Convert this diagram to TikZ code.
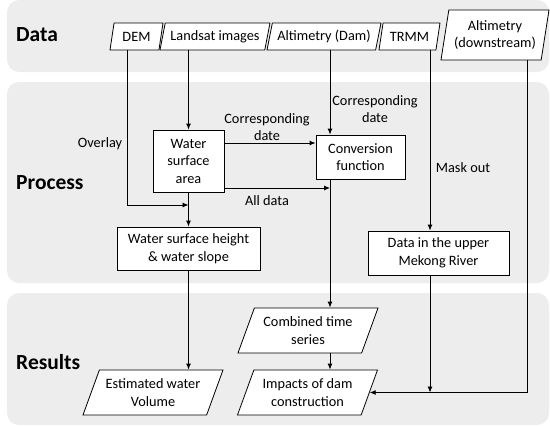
\documentclass[tikz,border=0pt]{standalone}
\usepackage{fontspec}
\setmainfont{Carlito}
\usepackage{xcolor}
\usepackage{tikz}
\usetikzlibrary{positioning,arrows.meta,shapes.geometric}
\definecolor{bandgray}{HTML}{EDEDED}

\begin{document}
\begin{tikzpicture}[
  x=1pt, y=-1pt,
  font=\fontsize{14.3}{17.5}\selectfont,
  line/.style={-{Latex[length=6pt,width=5pt]}, line width=0.9pt, draw=black},
  band/.style={fill=bandgray, draw=none, rounded corners=12pt},
  title/.style={font=\fontsize{21.5}{24}\selectfont\bfseries, anchor=west, inner sep=0pt},
  lbl/.style={align=center, inner sep=0pt},
  box/.style={draw=black, fill=white, line width=0.8pt, align=center, inner sep=1pt},
  data/.style={box, trapezium, trapezium left angle=70, trapezium right angle=110, trapezium stretches body=true, minimum height=27pt},
  result/.style={data, trapezium left angle=61, trapezium right angle=119, minimum height=45pt, minimum width=140pt}
]
\useasboundingbox (0,0) rectangle (550,426);

% Background bands
\fill[band] (7,0) rectangle (549,72);
\fill[band] (7,82) rectangle (549,283);
\fill[band] (7,293) rectangle (549,425);

\node[title] (tdata) at (16,35) {Data};
\node[title] (tproc) at (16,183) {Process};
\node[title] (tres) at (16,362) {Results};

% Data row
\node[data, minimum width=53pt] (dem) at (136.5,36.5) {DEM};
\node[data, minimum width=110pt] (landsat) at (215,36.5) {Landsat images};
\node[data, minimum width=114pt] (altdam) at (324,36.5) {Altimetry (Dam)};
\node[data, minimum width=61pt] (trmm) at (409.5,36.5) {TRMM};
\node[data, trapezium left angle=76, trapezium right angle=104, minimum width=108pt, minimum height=50pt] (altdown) at (495,35) {Altimetry\\(downstream)};

% Process boxes
\node[box, minimum width=71pt, minimum height=62pt] (area) at (188.5,161) {Water\\surface\\area};
\node[box, minimum width=89pt, minimum height=44pt] (conv) at (360.5,157) {Conversion\\function};
\node[box, minimum width=143pt, minimum height=43pt] (height) at (188.5,248.5) {Water surface height\\\& water slope};
\node[box, minimum width=141pt, minimum height=44pt] (mekong) at (438.5,253) {Data in the upper\\Mekong River};

% Results
\node[result] (combined) at (308,330.5) {Combined time\\series};
\node[result] (impacts) at (307.5,392.5) {Impacts of dam\\construction};
\node[result] (volume) at (153,392.5) {Estimated water\\Volume};

% Helper positions for the vertical lines
\coordinate (overlay) at (127,205);
\coordinate (damline) at (330,0);
\coordinate (maskline) at (430,0);
\coordinate (downline) at (527,0);
\coordinate (corrdate) at (0,143);
\coordinate (alldata) at (0,188);

% Arrows
\draw[line] (dem.south -| overlay) |- (overlay -| area.south);
\draw[line] (landsat.south -| area.north) -- (area.north);
\draw[line] (area.south) -- (area.south |- height.north);
\draw[line] (height.south -| area.south) -- (area.south |- volume.north);

\draw[line] (altdam.south -| damline) -- (damline |- conv.north);
\draw[line] (area.east |- corrdate) -- (conv.west |- corrdate);
\draw[line] (area.east |- alldata) -- (damline |- alldata);
\draw[line] (conv.south -| damline) -- (damline |- combined.north);
\draw[line] (combined.south -| damline) -- (damline |- impacts.north);

\draw[line] (trmm.south -| maskline) -- (maskline |- mekong.north);
\draw[line] (mekong.south -| maskline) -- (maskline |- impacts.east);
\draw[line] (altdown.south -| downline) |- (impacts.east);

% Labels
\node[lbl] (lovl) at (100,144) {Overlay};
\node[lbl] (lcorr1) at (267,127) {Corresponding\\date};
\node[lbl] (lcorr2) at (375,109) {Corresponding\\date};
\node[lbl] (lall) at (267,201) {All data};
\node[lbl] (lmask) at (463,168) {Mask out};
\end{tikzpicture}
\end{document}
